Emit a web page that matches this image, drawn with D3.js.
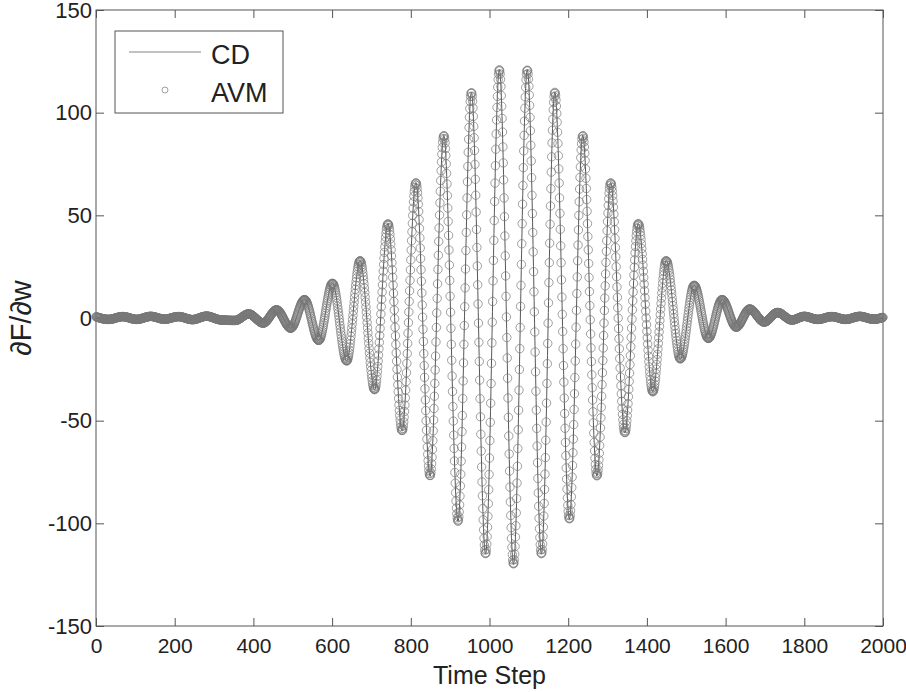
<!DOCTYPE html>
<html>
<head>
<meta charset="utf-8">
<script src="https://cdn.jsdelivr.net/npm/d3@7"></script>
<style>
  body { margin: 0; background: #fff; overflow: hidden; }
  svg { display: block; }
  text { font-family: "Liberation Sans", Arial, sans-serif; fill: #222; }
</style>
</head>
<body>
<svg></svg>
<script>
const w = 906
const h = 692

// extrema of the signal (time step, value)
const cdSteps = [0, 32, 68, 103, 139, 174, 210, 245, 281, 316,
  354, 388, 425, 459, 495, 530, 566, 601, 637, 671, 708, 742, 778, 813, 849, 884, 920, 954, 990,
  1025, 1061, 1096, 1132, 1166, 1203, 1237, 1273, 1308, 1344, 1378, 1415, 1449, 1485, 1520, 1556,
  1591, 1627, 1661, 1698, 1732, 1768, 1800, 1834, 1870, 1905, 1941, 1976, 2000]
const cdValues = [0.6, -0.7, 0.7, -0.7, 0.8, -0.6, 0.7, -0.8, 0.9, -0.9,
  -1.2, 2, -2.5, 4, -5, 9, -11, 17, -21, 28, -35, 46, -55, 66, -77, 89, -99, 110, -115,
  121, -120, 121, -115, 110, -98, 89, -77, 66, -56, 46, -36, 28, -20, 16, -10,
  9, -4.5, 4.4, -2, 2.7, -1, 0.8, -0.7, 0.7, -0.7, 0.8, -0.6, 0.3]

const xTicks = [0, 200, 400, 600, 800, 1000, 1200, 1400, 1600, 1800, 2000]
const yTicks = [-150, -100, -50, 0, 50, 100, 150]
const seriesNames = ['CD', 'AVM']
const xLabel = 'Time Step'
const yLabel = '\u2202F/\u2202w'

const data = cdSteps.map((s, i) => ({ step: s, value: cdValues[i] }))

const svg = d3.select('svg')
  .attr('width', w)
  .attr('height', h)

const margin = { top: 10, right: 23, bottom: 66, left: 96 }
const innerWidth = w - margin.left - margin.right
const innerHeight = h - margin.top - margin.bottom

const xScale = d3.scaleLinear()
  .domain([0, 2000])
  .range([0, innerWidth])

const yScale = d3.scaleLinear()
  .domain([-150, 150])
  .range([innerHeight, 0])

const g = svg.append('g')
  .attr('transform', `translate(${margin.left}, ${margin.top})`)

// axes, MATLAB style: ticks point inward, mirrored on top/right
const tickFmt = d => String(d)
const xAxisG = g.append('g')
  .attr('transform', `translate(0, ${innerHeight})`)
  .call(d3.axisBottom(xScale).tickValues(xTicks).tickSize(-8).tickPadding(12).tickFormat(tickFmt))
const yAxisG = g.append('g')
  .call(d3.axisLeft(yScale).tickValues(yTicks).tickSize(-8).tickPadding(4).tickFormat(tickFmt))
g.append('g')
  .call(d3.axisTop(xScale).tickValues(xTicks).tickSize(-8).tickFormat(''))
g.append('g')
  .attr('transform', `translate(${innerWidth}, 0)`)
  .call(d3.axisRight(yScale).tickValues(yTicks).tickSize(-8).tickFormat(''))

g.selectAll('.domain').remove()
g.selectAll('.tick line').attr('stroke', '#555')
xAxisG.selectAll('text').attr('font-size', 21).attr('fill', '#222')
yAxisG.selectAll('text').attr('font-size', 22).attr('fill', '#222')

g.append('rect')
  .attr('width', innerWidth)
  .attr('height', innerHeight)
  .attr('fill', 'none')
  .attr('stroke', '#555')
  .attr('stroke-width', 1)

// CD line
const lineGenerator = d3.line()
  .x(d => xScale(d.step))
  .y(d => yScale(d.value))
  .curve(d3.curveMonotoneX)

const path = g.append('path')
  .attr('d', lineGenerator(data))
  .attr('fill', 'none')
  .attr('stroke', '#444')
  .attr('stroke-width', 0.9)

// AVM markers sit on the same curve at every time step
const node = path.node()
const total = node.getTotalLength()
const px = [], py = []
for (let l = 0; l <= total; l += 1.5) {
  const p = node.getPointAtLength(l)
  if (px.length && p.x <= px[px.length - 1]) continue
  px.push(p.x); py.push(p.y)
}
const onCurve = x => {
  const i = Math.max(1, Math.min(px.length - 1, d3.bisectLeft(px, x)))
  const t = (x - px[i - 1]) / (px[i] - px[i - 1] || 1)
  return py[i - 1] + t * (py[i] - py[i - 1])
}
const avmSteps = d3.range(0, 2001)

g.append('g')
  .selectAll('circle').data(avmSteps)
  .enter().append('circle')
  .attr('cx', d => xScale(d))
  .attr('cy', d => onCurve(xScale(d)))
  .attr('r', 4.2)
  .attr('fill', 'none')
  .attr('stroke', '#777')
  .attr('stroke-width', 0.7)

// axis labels
svg.append('text')
  .attr('x', margin.left + innerWidth / 2)
  .attr('y', 684)
  .attr('text-anchor', 'middle')
  .attr('font-size', 25)
  .text(xLabel)

svg.append('text')
  .attr('transform', `translate(31, ${margin.top + innerHeight / 2}) rotate(-90)`)
  .attr('text-anchor', 'middle')
  .attr('font-size', 29)
  .text(yLabel)

// legend
const legend = svg.append('g')
  .attr('transform', 'translate(115, 31)')
legend.append('rect')
  .attr('width', 168)
  .attr('height', 82)
  .attr('fill', '#fff')
  .attr('stroke', '#555')
  .attr('stroke-width', 1)
legend.append('line')
  .attr('x1', 14).attr('x2', 86)
  .attr('y1', 21).attr('y2', 21)
  .attr('stroke', '#777')
  .attr('stroke-width', 0.9)
legend.append('circle')
  .attr('cx', 50).attr('cy', 59)
  .attr('r', 3)
  .attr('fill', 'none')
  .attr('stroke', '#888')
  .attr('stroke-width', 0.8)
legend.selectAll('text.name').data(seriesNames)
  .enter().append('text')
  .attr('class', 'name')
  .attr('x', 96)
  .attr('y', (d, i) => 33 + i * 38)
  .attr('font-size', 27)
  .text(d => d)
</script>
</body>
</html>
